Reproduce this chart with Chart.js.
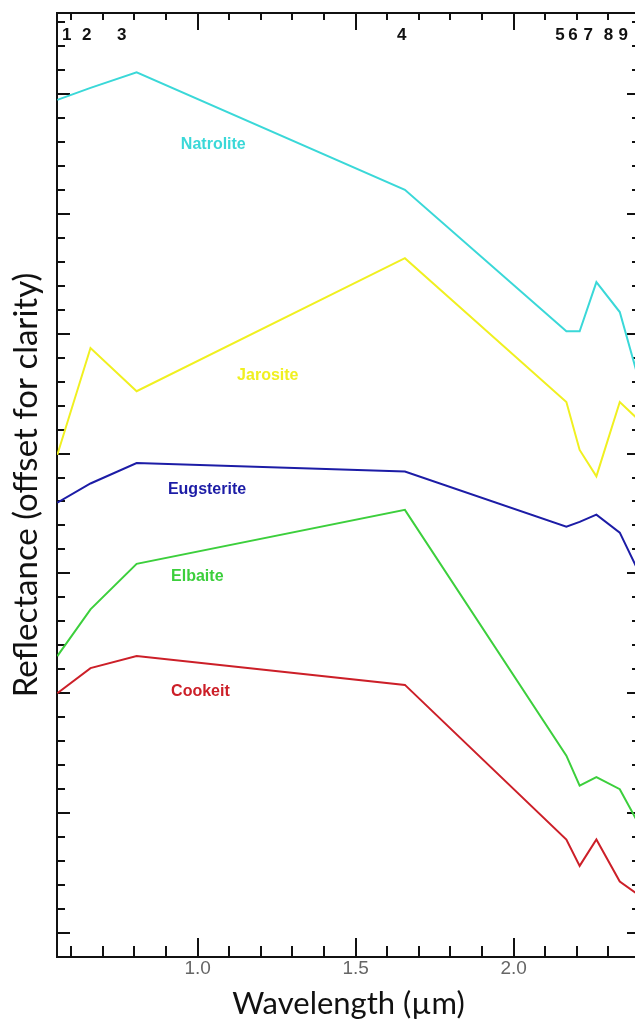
<!DOCTYPE html>
<html>
<head>
<meta charset="utf-8">
<script src="https://cdn.jsdelivr.net/npm/chart.js@4/dist/chart.umd.min.js"></script>
<style>
  html, body { margin: 0; padding: 0; background: #fff; overflow: hidden; }
  #wrap { width: 645px; height: 1022px; position: relative; }
</style>
</head>
<body>
<div id="wrap"><canvas id="spectra" width="645" height="1022"></canvas></div>
<script>
// ASTER band centres (µm) at which each library spectrum is resampled
const bandCentres = [0.556, 0.661, 0.807, 1.656, 2.167, 2.209, 2.262, 2.336, 2.400];

// Reflectance, stacked with an offset per mineral
const natrolite  = [0.695, 0.705, 0.718, 0.620, 0.502, 0.502, 0.543, 0.518, 0.458];
const jarosite   = [0.399, 0.488, 0.452, 0.563, 0.443, 0.403, 0.381, 0.443, 0.427];
const eugsterite = [0.359, 0.375, 0.392, 0.385, 0.339, 0.343, 0.349, 0.334, 0.299];
const elbaite    = [0.231, 0.270, 0.308, 0.353, 0.148, 0.123, 0.130, 0.120, 0.089];
const cookeit    = [0.200, 0.221, 0.231, 0.207, 0.078, 0.056, 0.078, 0.043, 0.031];

const mineralNames  = ['Natrolite', 'Jarosite', 'Eugsterite', 'Elbaite', 'Cookeit'];
const mineralColors = ['#3ad8d8', '#f0f020', '#1c1ca6', '#3ccf3c', '#cc1f28'];
// where each mineral name is written (wavelength, reflectance)
const mineralLabelX = [0.947, 1.125, 0.906, 0.916, 0.916];
const mineralLabelY = [0.658, 0.465, 0.370, 0.297, 0.201];

// band numbers along the top edge
const bandNames  = ['1', '2', '3', '4', '5', '6', '7', '8', '9'];
const bandLabelX = [0.586, 0.649, 0.760, 1.646, 2.147, 2.188, 2.236, 2.300, 2.347];

// axis tick positions
const wavelengthTicks = [0.6, 0.7, 0.8, 0.9, 1.0, 1.1, 1.2, 1.3, 1.4, 1.5, 1.6, 1.7, 1.8, 1.9, 2.0, 2.1, 2.2, 2.3, 2.4];
const wavelengthLabels = [1.0, 1.5, 2.0];
const reflectanceTicks = [];
for (let i = 0; i <= 38; i++) reflectanceTicks.push(+(i * 0.02).toFixed(2));

const seriesValues = [natrolite, jarosite, eugsterite, elbaite, cookeit];

const isLabelled = v => wavelengthLabels.some(w => Math.abs(w - v) < 1e-6);
const isMajorY = v => Math.abs(v * 10 - Math.round(v * 10)) < 1e-6;

const framePlugin = {
  id: 'frameAndLabels',
  beforeDatasetsDraw(chart) {
    const { ctx, chartArea: a, scales: { x, y } } = chart;
    ctx.save();
    ctx.strokeStyle = '#111';
    ctx.lineWidth = 2;
    ctx.strokeRect(a.left, a.top, a.right - a.left, a.bottom - a.top);
    ctx.beginPath();
    wavelengthTicks.forEach(v => {
      const px = Math.round(x.getPixelForValue(v));
      const major = isLabelled(v);
      ctx.moveTo(px, a.bottom);
      ctx.lineTo(px, a.bottom - (major ? 19 : 11));
      ctx.moveTo(px, a.top);
      ctx.lineTo(px, a.top + (major ? 17 : 7));
    });
    reflectanceTicks.forEach(v => {
      const py = Math.round(y.getPixelForValue(v));
      const major = isMajorY(v);
      ctx.moveTo(a.left, py);
      ctx.lineTo(a.left + (major ? 13 : 8), py);
      ctx.moveTo(a.right, py);
      ctx.lineTo(a.right - (major ? 13 : 8), py);
    });
    ctx.stroke();
    ctx.restore();
  },
  afterDatasetsDraw(chart) {
    const { ctx, chartArea: a, scales: { x, y } } = chart;
    ctx.save();
    ctx.font = 'bold 17px "Liberation Sans", Arial, sans-serif';
    ctx.fillStyle = '#111';
    ctx.textAlign = 'center';
    ctx.textBaseline = 'middle';
    bandNames.forEach((n, i) => {
      ctx.fillText(n, x.getPixelForValue(bandLabelX[i]), a.top + 22);
    });
    ctx.font = 'bold 16px "Liberation Sans", Arial, sans-serif';
    ctx.textAlign = 'left';
    mineralNames.forEach((n, i) => {
      ctx.fillStyle = mineralColors[i];
      ctx.fillText(n, x.getPixelForValue(mineralLabelX[i]), y.getPixelForValue(mineralLabelY[i]));
    });
    ctx.restore();
  }
};

new Chart(document.getElementById('spectra'), {
  type: 'line',
  data: {
    datasets: mineralNames.map((name, i) => ({
      label: name,
      data: bandCentres.map((w, j) => ({ x: w, y: seriesValues[i][j] })),
      borderColor: mineralColors[i],
      borderWidth: 2,
      pointRadius: 0,
      tension: 0,
      fill: false
    }))
  },
  options: {
    responsive: false,
    animation: false,
    devicePixelRatio: 1,
    layout: { padding: { top: 13, right: 5, left: 0, bottom: 0 } },
    plugins: { legend: { display: false }, tooltip: { enabled: false } },
    scales: {
      x: {
        type: 'linear',
        min: 0.555,
        max: 2.40,
        afterBuildTicks: s => { s.ticks = wavelengthTicks.map(v => ({ value: v })); },
        afterFit: s => { s.height = 65; },
        grid: { display: false, drawTicks: false },
        border: { display: false },
        ticks: {
          autoSkip: false,
          maxRotation: 0,
          padding: 2,
          color: '#666',
          font: { family: '"Liberation Sans", Arial, sans-serif', size: 19, lineHeight: 1 },
          callback: v => isLabelled(v) ? v.toFixed(1) : ''
        },
        title: {
          display: true,
          text: 'Wavelength (µm)',
          color: '#111',
          font: { family: 'Lato', size: 31, lineHeight: 1 },
          padding: { top: 0, bottom: 3 }
        }
      },
      y: {
        type: 'linear',
        min: -0.02,
        max: 0.7675,
        afterFit: s => { s.width = 57; },
        grid: { display: false, drawTicks: false },
        border: { display: false },
        ticks: { display: false },
        title: {
          display: true,
          text: 'Reflectance (offset for clarity)',
          color: '#111',
          font: { family: 'Lato', size: 33, lineHeight: 1 },
          padding: { top: 10, bottom: 0 }
        }
      }
    }
  },
  plugins: [framePlugin]
});
</script>
</body>
</html>
